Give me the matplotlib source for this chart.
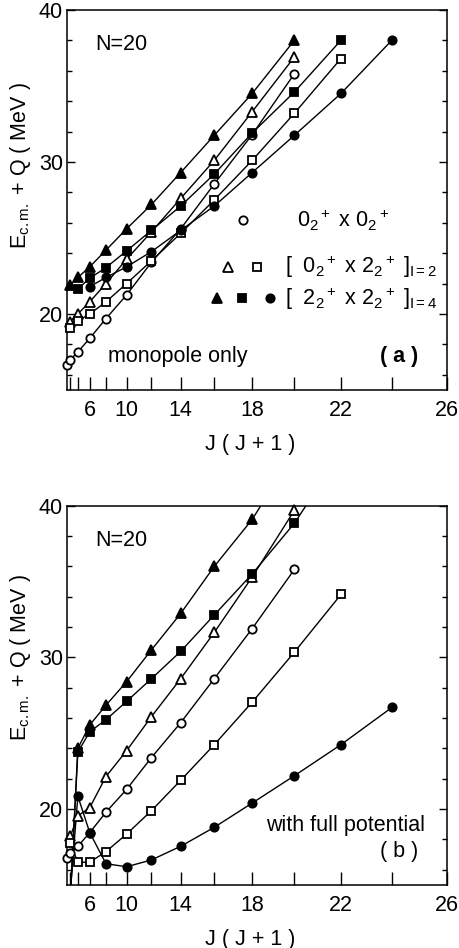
import numpy as np
import matplotlib.pyplot as plt

YMIN, YMAX = 15, 40

# panel (a): monopole only  -- J values and energies (MeV)
A_OC_J = [0, 2, 4, 6, 8, 10, 12, 14, 16, 18, 20]
A_OC_E = [16.65, 17.0, 17.5, 18.4, 19.7, 21.25, 23.4, 25.6, 28.55, 31.8, 35.8]
A_OT_J = [2, 4, 6, 8, 10, 12, 14, 16, 18, 20]
A_OT_E = [19.5, 20.0, 20.8, 22.0, 23.6, 25.4, 27.6, 30.1, 33.3, 36.9]
A_OS_J = [2, 4, 6, 8, 10, 12, 14, 16, 18, 20, 22]
A_OS_E = [19.1, 19.55, 20.0, 20.8, 22.0, 23.5, 25.3, 27.5, 30.1, 33.2, 36.8]
A_FT_J = [2, 4, 6, 8, 10, 12, 14, 16, 18, 20]
A_FT_E = [21.9, 22.4, 23.1, 24.2, 25.6, 27.2, 29.3, 31.75, 34.5, 38.0]
A_FS_J = [4, 6, 8, 10, 12, 14, 16, 18, 20, 22]
A_FS_E = [21.65, 22.35, 23.05, 24.15, 25.5, 27.1, 29.2, 31.9, 34.6, 38.0]
A_FC_J = [6, 8, 10, 12, 14, 16, 18, 20, 22, 24]
A_FC_E = [21.8, 22.4, 23.1, 24.1, 25.5, 27.1, 29.3, 31.75, 34.5, 38.0]

# panel (b): with full potential
B_OC_J = [0, 2, 4, 6, 8, 10, 12, 14, 16, 18, 20]
B_OC_E = [16.8, 17.1, 17.55, 18.45, 19.8, 21.3, 23.4, 25.7, 28.6, 31.9, 35.8]
B_OT_J = [2, 4, 6, 8, 10, 12, 14, 16, 18, 20]
B_OT_E = [18.2, 19.55, 20.1, 22.15, 23.85, 26.1, 28.6, 31.65, 35.3, 39.7]
B_OS_J = [2, 4, 6, 8, 10, 12, 14, 16, 18, 20, 22]
B_OS_E = [17.75, 16.5, 16.5, 17.2, 18.35, 19.9, 21.9, 24.25, 27.05, 30.35, 34.15]
B_FT_J = [2, 4, 6, 8, 10, 12, 14, 16, 18, 20]
B_FT_E = [14.0, 24.0, 25.55, 26.85, 28.4, 30.5, 32.9, 36.0, 39.1, 43.5]
B_FS_J = [2, 4, 6, 8, 10, 12, 14, 16, 18, 20, 22]
B_FS_E = [14.2, 23.75, 25.1, 25.9, 27.1, 28.6, 30.4, 32.8, 35.5, 38.85, 43.5]
B_FC_J = [2, 4, 6, 8, 10, 12, 14, 16, 18, 20, 22, 24]
B_FC_E = [14.5, 20.85, 18.45, 16.4, 16.2, 16.65, 17.55, 18.8, 20.4, 22.2, 24.25, 26.7]

XTICK_J = [6, 10, 14, 18, 22, 26]
XMINOR_J = [2, 4, 8, 12, 16, 20, 24]

MS = {'o': 6.0, 's': 5.6, '^': 6.6}


def jj(j):
    j = np.asarray(j, dtype=float)
    return j * (j + 1)


def draw_curve(ax, j, e, marker, filled):
    x = jj(j)
    e = np.asarray(e, dtype=float)
    ax.plot(x, e, '-', color='black', lw=1.0, zorder=2)
    inside = (e >= YMIN) & (e <= YMAX)
    ax.plot(x[inside], e[inside], ls='none', marker=marker, ms=MS[marker],
            mfc='black' if filled else 'white', mec='black', mew=1.3,
            clip_on=False, zorder=3)


def setup_axes(ax, label_y):
    ax.set_xlim(0, jj(26))
    ax.set_ylim(YMIN, YMAX)
    ax.set_xticks(jj(XTICK_J))
    ax.set_xticklabels([str(j) for j in XTICK_J])
    ax.set_xticks(jj(XMINOR_J), minor=True)
    ax.set_yticks([20, 30, 40])
    ax.set_yticks(np.arange(16, 40, 2), minor=True)
    ax.tick_params(axis='x', which='both', direction='in', length=9.5,
                   width=1.0, top=False, pad=7, labelsize=15.5)
    ax.tick_params(axis='y', which='major', direction='in', length=5.5,
                   width=1.0, left=True, right=True, pad=3, labelsize=15.5)
    ax.tick_params(axis='y', which='minor', direction='in', length=3.5,
                   width=1.0, left=True, right=True)
    for s in ax.spines.values():
        s.set_linewidth(1.1)
    ax.set_xlabel('J ( J + 1 )', fontsize=15.5)
    ax.xaxis.set_label_coords(0.482, -0.115)
    ax.set_ylabel(r'E$_{\rm c.m.}$ + Q ( MeV )', fontsize=15.5)
    ax.yaxis.set_label_coords(-0.09, label_y)
    ax.text(0.074, 0.908, 'N=20', transform=ax.transAxes, fontsize=15.5,
            va='center', ha='left')


def main():
    plt.rcParams['font.family'] = ['Liberation Sans', 'DejaVu Sans']
    plt.rcParams['mathtext.fontset'] = 'custom'
    plt.rcParams['mathtext.rm'] = 'Liberation Sans'
    plt.rcParams['mathtext.it'] = 'Liberation Sans:italic'

    fig = plt.figure(figsize=(4.59, 9.48), dpi=100)
    ax_a = fig.add_axes([0.146, 0.5886, 0.828, 0.401])
    ax_b = fig.add_axes([0.146, 0.0665, 0.828, 0.400])

    # panel (a)
    draw_curve(ax_a, A_OC_J, A_OC_E, 'o', False)
    draw_curve(ax_a, A_OT_J, A_OT_E, '^', False)
    draw_curve(ax_a, A_OS_J, A_OS_E, 's', False)
    draw_curve(ax_a, A_FT_J, A_FT_E, '^', True)
    draw_curve(ax_a, A_FS_J, A_FS_E, 's', True)
    draw_curve(ax_a, A_FC_J, A_FC_E, 'o', True)
    setup_axes(ax_a, 0.59)

    # key inside panel (a)
    key = [(0.463, 0.447, 'o', False), (0.424, 0.324, '^', False),
           (0.500, 0.324, 's', False), (0.395, 0.241, '^', True),
           (0.461, 0.241, 's', True), (0.534, 0.241, 'o', True)]
    for kx, ky, m, f in key:
        ax_a.plot([kx], [ky], transform=ax_a.transAxes, ls='none', marker=m,
                  ms=MS[m], mfc='black' if f else 'white', mec='black',
                  mew=1.3)
    ax_a.text(0.605, 0.447, r'0$_2$$^+$ x 0$_2$$^+$', transform=ax_a.transAxes,
              fontsize=15.5, va='center')
    ax_a.text(0.574, 0.324, r'[  0$_2$$^+$ x 2$_2$$^+$ ]$_{\rm I=2}$',
              transform=ax_a.transAxes, fontsize=15.5, va='center')
    ax_a.text(0.574, 0.241, r'[  2$_2$$^+$ x 2$_2$$^+$ ]$_{\rm I=4}$',
              transform=ax_a.transAxes, fontsize=15.5, va='center')
    ax_a.text(0.108, 0.087, 'monopole only', transform=ax_a.transAxes,
              fontsize=15.5, va='center')
    ax_a.text(0.924, 0.087, '( a )', transform=ax_a.transAxes,
              fontsize=15.5, va='center', ha='right', fontweight='bold')

    # panel (b)
    draw_curve(ax_b, B_OC_J, B_OC_E, 'o', False)
    draw_curve(ax_b, B_OT_J, B_OT_E, '^', False)
    draw_curve(ax_b, B_OS_J, B_OS_E, 's', False)
    draw_curve(ax_b, B_FT_J, B_FT_E, '^', True)
    draw_curve(ax_b, B_FS_J, B_FS_E, 's', True)
    draw_curve(ax_b, B_FC_J, B_FC_E, 'o', True)
    setup_axes(ax_b, 0.60)
    ax_b.text(0.942, 0.158, 'with full potential', transform=ax_b.transAxes,
              fontsize=15.5, va='center', ha='right')
    ax_b.text(0.924, 0.087, '( b )', transform=ax_b.transAxes,
              fontsize=15.5, va='center', ha='right')

    fig.savefig('out.png', dpi=100)


if __name__ == '__main__':
    main()
